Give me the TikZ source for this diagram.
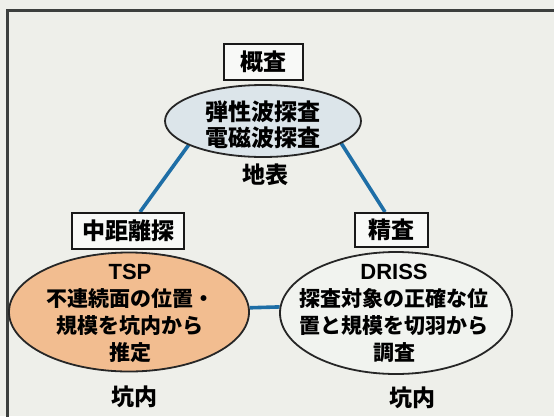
\documentclass[tikz,border=0pt]{standalone}
\usepackage{fontspec}
\setmainfont{Noto Sans CJK JP}
\newfontfamily\latinsans{Liberation Sans}
\usetikzlibrary{shapes.geometric,backgrounds}
\definecolor{bgcol}{HTML}{EEEFEA}
\definecolor{linkblue}{HTML}{1E6EA6}
\definecolor{framecol}{HTML}{3C3F3E}
\definecolor{orangefill}{HTML}{F2BD90}
\definecolor{topfill}{HTML}{DCE5EA}
\definecolor{rightfill}{HTML}{F1F3EF}
\tikzset{
  x=1pt, y=-1pt,
  labelbox/.style={draw=black!90, line width=2pt, fill=white!60!bgcol, minimum height=36pt, inner sep=0pt,
    font=\bfseries\fontsize{23}{25}\selectfont},
  oval/.style={ellipse, draw=black!85, line width=1.8pt, inner sep=0pt},
  ovaltext/.style={align=center, inner sep=0pt, font=\bfseries\fontsize{21}{27}\selectfont},
  plain/.style={inner sep=0pt, font=\bfseries\fontsize{23}{25}\selectfont},
  link/.style={draw=linkblue, line width=3.6pt},
  framestyle/.style={draw=framecol, line width=3pt}
}
\begin{document}
\begin{tikzpicture}
\useasboundingbox (0,0) rectangle (554,416);

% top
\node[labelbox, minimum width=79pt] (box1) at (263.5,62) {概査};
\node[oval, fill=topfill, minimum width=196pt, minimum height=72pt] (e1) at (263,121) {};
\node[ovaltext, font=\bfseries\fontsize{23}{26}\selectfont] (t1) at (263,125) {弾性波探査\\電磁波探査};
\node[plain] (g1) at (265,175) {地表};

% left
\node[labelbox, minimum width=112pt] (box2) at (128,231) {中距離探};
\node[oval, fill=orangefill, minimum width=240pt, minimum height=119pt] (e2) at (129,312) {};
\node[ovaltext] (t2) at (130,313) {{\latinsans\fontsize{22}{27}\selectfont TSP}\\不連続面の位置・\\規模を坑内から\\推定};
\node[plain] (g2) at (134,397) {坑内};

% right
\node[labelbox, minimum width=73pt, minimum height=34pt] (box3) at (391.5,230) {精査};
\node[oval, fill=rightfill, minimum width=232pt, minimum height=122pt] (e3) at (396,313) {};
\node[ovaltext] (t3) at (394,313) {{\latinsans\fontsize{22}{27}\selectfont DRISS}\\探査対象の正確な位\\置と規模を切羽から\\調査};
\node[plain] (g3) at (412,398) {坑内};

\begin{scope}[on background layer]
\fill[bgcol] (0,0) rectangle (554,416);
\coordinate (fr) at (556,10);
\coordinate (fc) at (7,10);
\coordinate (fb) at (7,418);
\draw[framestyle] (fr) -- (fc) -- (fb);
\draw[link] (e1.198) -- ([xshift=12pt]box2.north);
\draw[link] (e1.-16) -- ([xshift=-6.5pt]box3.north);
\draw[link] (e2.2.4) -- (e3.177.6);
\end{scope}
\end{tikzpicture}
\end{document}
